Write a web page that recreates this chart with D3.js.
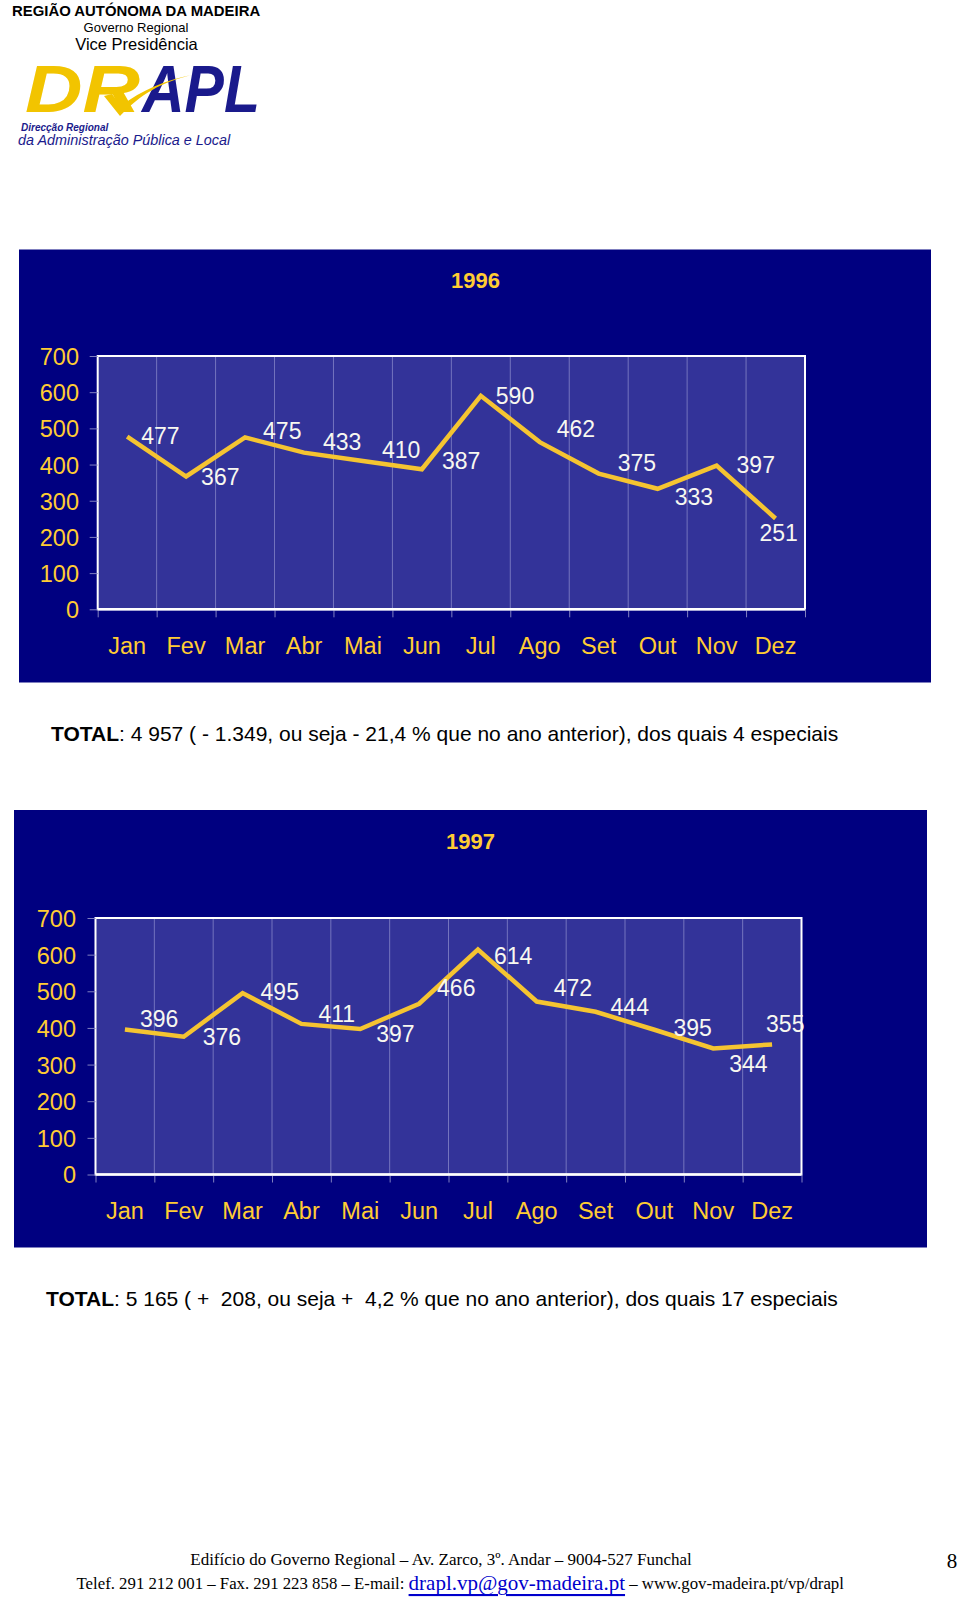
<!DOCTYPE html>
<html>
<head>
<meta charset="utf-8">
<script src="https://cdn.jsdelivr.net/npm/d3@7"></script>
<style>
  html, body { margin: 0; padding: 0; background: #ffffff; }
  svg { display: block; }
  text { white-space: pre; }
</style>
</head>
<body>
<svg id="page" width="960" height="1598"></svg>
<script>
// ---- Data ----
const months = ["Jan", "Fev", "Mar", "Abr", "Mai", "Jun", "Jul", "Ago", "Set", "Out", "Nov", "Dez"];
const yTicks = [0, 100, 200, 300, 400, 500, 600, 700];
const values1996 = [477, 367, 475, 433, 410, 387, 590, 462, 375, 333, 397, 251];
const values1997 = [396, 376, 495, 411, 397, 466, 614, 472, 444, 395, 344, 355];
const title1996 = "1996";
const title1997 = "1997";

// label offsets (px): [dx from point to label start, dy from point to label middle]
const labelOffsets1996 = [[14, -1], [15, 0], [18, -7], [19, -11], [19, -11], [20, -9], [15, 0], [17, -13], [19, -11], [17, 8], [20, -1], [-16, 14]];
const labelOffsets1997 = [[15, -11], [19, 0], [18, -1], [17, -10], [16, 5], [18, -16], [16, 6], [17, -14], [15, -5], [19, -2], [16, 15], [-6, -21]];

const NAVY = "#000080";
const PLOT = "#333399";
const YELLOW = "#FFCC33";
const LINE = "#F5C431";

const svg = d3.select("#page");

// ---- Header ----
svg.append("text").attr("x", 12).attr("y", 10.5).attr("dominant-baseline", "central")
  .attr("font-family", "Liberation Sans, Arial, sans-serif").attr("font-weight", "bold")
  .attr("font-size", 14.9).attr("fill", "#000").text("REGIÃO AUTÓNOMA DA MADEIRA");
svg.append("text").attr("x", 136).attr("y", 27).attr("dominant-baseline", "central").attr("text-anchor", "middle")
  .attr("font-family", "Liberation Sans, Arial, sans-serif")
  .attr("font-size", 13).attr("fill", "#000").text("Governo Regional");
svg.append("text").attr("x", 136.5).attr("y", 44).attr("dominant-baseline", "central").attr("text-anchor", "middle")
  .attr("font-family", "Liberation Sans, Arial, sans-serif")
  .attr("font-size", 16.5).attr("fill", "#000").text("Vice Presidência");

// Logo
const logo = svg.append("g");
logo.append("text").attr("x", 25).attr("y", 112)
  .attr("font-family", "Liberation Sans, Arial, sans-serif").attr("font-weight", "bold").attr("font-style", "italic")
  .attr("font-size", 66).attr("fill", "#F2C400")
  .attr("textLength", 115).attr("lengthAdjust", "spacingAndGlyphs").text("DR");
logo.append("text").attr("x", 142).attr("y", 112)
  .attr("font-family", "Liberation Sans, Arial, sans-serif").attr("font-weight", "bold").attr("font-style", "italic")
  .attr("font-size", 66).attr("fill", "#1A1A8C")
  .attr("textLength", 118).attr("lengthAdjust", "spacingAndGlyphs").text("APL");
logo.append("path")
  .attr("d", "M104,96 L120,116 C140,95 160,82 196,74 C165,80 142,90 121,106 L112,94 Z")
  .attr("fill", "#F2C400");
logo.append("text").attr("x", 21).attr("y", 127)
  .attr("font-family", "Liberation Sans, Arial, sans-serif").attr("font-weight", "bold").attr("font-style", "italic")
  .attr("font-size", 10).attr("fill", "#1A1A8C").attr("dominant-baseline", "central").text("Direcção Regional");
logo.append("text").attr("x", 18).attr("y", 139.5)
  .attr("font-family", "Liberation Sans, Arial, sans-serif").attr("font-style", "italic")
  .attr("font-size", 14.4).attr("fill", "#1A1A8C").attr("dominant-baseline", "central").text("da Administração Pública e Local");

// ---- Chart drawing ----
function drawChart(cfg) {
  const g = svg.append("g");
  g.append("rect").attr("x", cfg.panel.x).attr("y", cfg.panel.y)
    .attr("width", cfg.panel.w).attr("height", cfg.panel.h).attr("fill", NAVY);

  g.append("text").attr("x", cfg.titleX).attr("y", cfg.titleY)
    .attr("text-anchor", "middle").attr("dominant-baseline", "central")
    .attr("font-family", "Liberation Sans, Arial, sans-serif").attr("font-weight", "bold")
    .attr("font-size", 22).attr("fill", YELLOW).text(cfg.title);

  const x = d3.scaleBand().domain(months).range([cfg.left, cfg.right]);
  const xb = d3.scaleLinear().domain([0, months.length]).range([cfg.left, cfg.right]);
  const y = d3.scaleLinear().domain([0, 700]).range([cfg.bottom, cfg.top]);

  g.append("rect").attr("x", cfg.left).attr("y", cfg.top)
    .attr("width", cfg.right - cfg.left).attr("height", cfg.bottom - cfg.top).attr("fill", PLOT);

  // vertical gridlines at category boundaries
  g.append("g").selectAll("line").data(d3.range(1, months.length)).join("line")
    .attr("x1", d => xb(d)).attr("x2", d => xb(d))
    .attr("y1", cfg.top).attr("y2", cfg.bottom)
    .attr("stroke", "#8585c8").attr("stroke-width", 1).attr("opacity", 0.8);

  // plot border
  g.append("rect").attr("x", cfg.left).attr("y", cfg.top)
    .attr("width", cfg.right - cfg.left).attr("height", cfg.bottom - cfg.top)
    .attr("fill", "none").attr("stroke", "#ffffff").attr("stroke-width", 2);

  // Y axis
  const yAxis = d3.axisLeft(y).tickValues(yTicks).tickSize(8).tickPadding(10).tickFormat(d3.format("d"));
  const ya = g.append("g").attr("transform", `translate(${cfg.left},0)`).call(yAxis);
  ya.select(".domain").remove();
  ya.selectAll(".tick line").attr("stroke", "#8080c0");
  ya.selectAll(".tick text").attr("fill", YELLOW).attr("font-size", 23.5)
    .attr("font-family", "Liberation Sans, Arial, sans-serif").attr("x", cfg.yLabelX - cfg.left).attr("dy", "0.36em");

  // X boundary ticks
  const xbAxis = d3.axisBottom(xb).tickValues(d3.range(0, months.length + 1)).tickSize(8).tickFormat("");
  const xba = g.append("g").attr("transform", `translate(0,${cfg.bottom})`).call(xbAxis);
  xba.select(".domain").remove();
  xba.selectAll(".tick line").attr("stroke", "#8080c0");

  // X labels
  const xAxis = d3.axisBottom(x).tickSize(0).tickPadding(0);
  const xa = g.append("g").attr("transform", `translate(0,${cfg.xLabelY})`).call(xAxis);
  xa.select(".domain").remove();
  xa.selectAll(".tick text").attr("fill", YELLOW).attr("font-size", 23.5)
    .attr("font-family", "Liberation Sans, Arial, sans-serif").attr("dy", "0.36em").attr("y", 0);

  // bottom axis line in white
  g.append("line").attr("x1", cfg.left).attr("x2", cfg.right).attr("y1", cfg.bottom).attr("y2", cfg.bottom)
    .attr("stroke", "#ffffff").attr("stroke-width", 2.5);

  // data line
  const line = d3.line().x((d, i) => x(months[i]) + x.bandwidth() / 2).y(d => y(d)).curve(d3.curveLinear);
  g.append("path").datum(cfg.values).attr("d", line)
    .attr("fill", "none").attr("stroke", LINE).attr("stroke-width", 4.5).attr("stroke-linejoin", "miter");

  // data labels
  g.append("g").selectAll("text").data(cfg.values).join("text")
    .attr("x", (d, i) => x(months[i]) + x.bandwidth() / 2 + cfg.offsets[i][0])
    .attr("y", (d, i) => y(d) + cfg.offsets[i][1])
    .attr("dy", "0.36em")
    .attr("font-family", "Liberation Sans, Arial, sans-serif").attr("font-size", 23)
    .attr("fill", "#F8F8F0").text(d => d);
}

drawChart({
  panel: { x: 19, y: 249.5, w: 912, h: 433 },
  title: title1996, titleX: 475.5, titleY: 280,
  left: 97.7, right: 805, top: 356, bottom: 609.3,
  yLabelX: 79, xLabelY: 646,
  values: values1996, offsets: labelOffsets1996
});

drawChart({
  panel: { x: 14, y: 810, w: 913, h: 437.5 },
  title: title1997, titleX: 470.5, titleY: 841,
  left: 95.5, right: 801.5, top: 918, bottom: 1174.5,
  yLabelX: 76, xLabelY: 1211,
  values: values1997, offsets: labelOffsets1997
});

// ---- TOTAL lines ----
function totalLine(xp, yp, rest) {
  const t = svg.append("text").attr("x", xp).attr("y", yp).attr("dominant-baseline", "central")
    .attr("font-family", "Liberation Sans, Arial, sans-serif").attr("font-size", 21).attr("fill", "#000");
  t.append("tspan").attr("font-weight", "bold").text("TOTAL");
  t.append("tspan").text(rest);
}
totalLine(51, 733, ": 4 957 ( - 1.349, ou seja - 21,4 % que no ano anterior), dos quais 4 especiais");
totalLine(46, 1297.5, ": 5 165 ( +  208, ou seja +  4,2 % que no ano anterior), dos quais 17 especiais");

// ---- Footer ----
svg.append("text").attr("x", 441).attr("y", 1559.5).attr("text-anchor", "middle").attr("dominant-baseline", "central")
  .attr("font-family", "Liberation Serif, Times New Roman, serif").attr("font-size", 17).attr("fill", "#000")
  .text("Edifício do Governo Regional – Av. Zarco, 3º. Andar – 9004-527 Funchal");
const f2 = svg.append("text").attr("x", 76.5).attr("y", 1583).attr("dominant-baseline", "central")
  .attr("font-family", "Liberation Serif, Times New Roman, serif").attr("font-size", 16.8).attr("fill", "#000");
f2.append("tspan").text("Telef. 291 212 001 – Fax. 291 223 858 – E-mail: ");
f2.append("tspan").attr("fill", "#0000CC").attr("font-size", 21).attr("text-decoration", "underline").text("drapl.vp@gov-madeira.pt");
f2.append("tspan").text(" – www.gov-madeira.pt/vp/drapl");
svg.append("text").attr("x", 952).attr("y", 1561).attr("text-anchor", "middle").attr("dominant-baseline", "central")
  .attr("font-family", "Liberation Serif, Times New Roman, serif").attr("font-size", 21).attr("fill", "#000").text("8");
</script>
</body>
</html>
